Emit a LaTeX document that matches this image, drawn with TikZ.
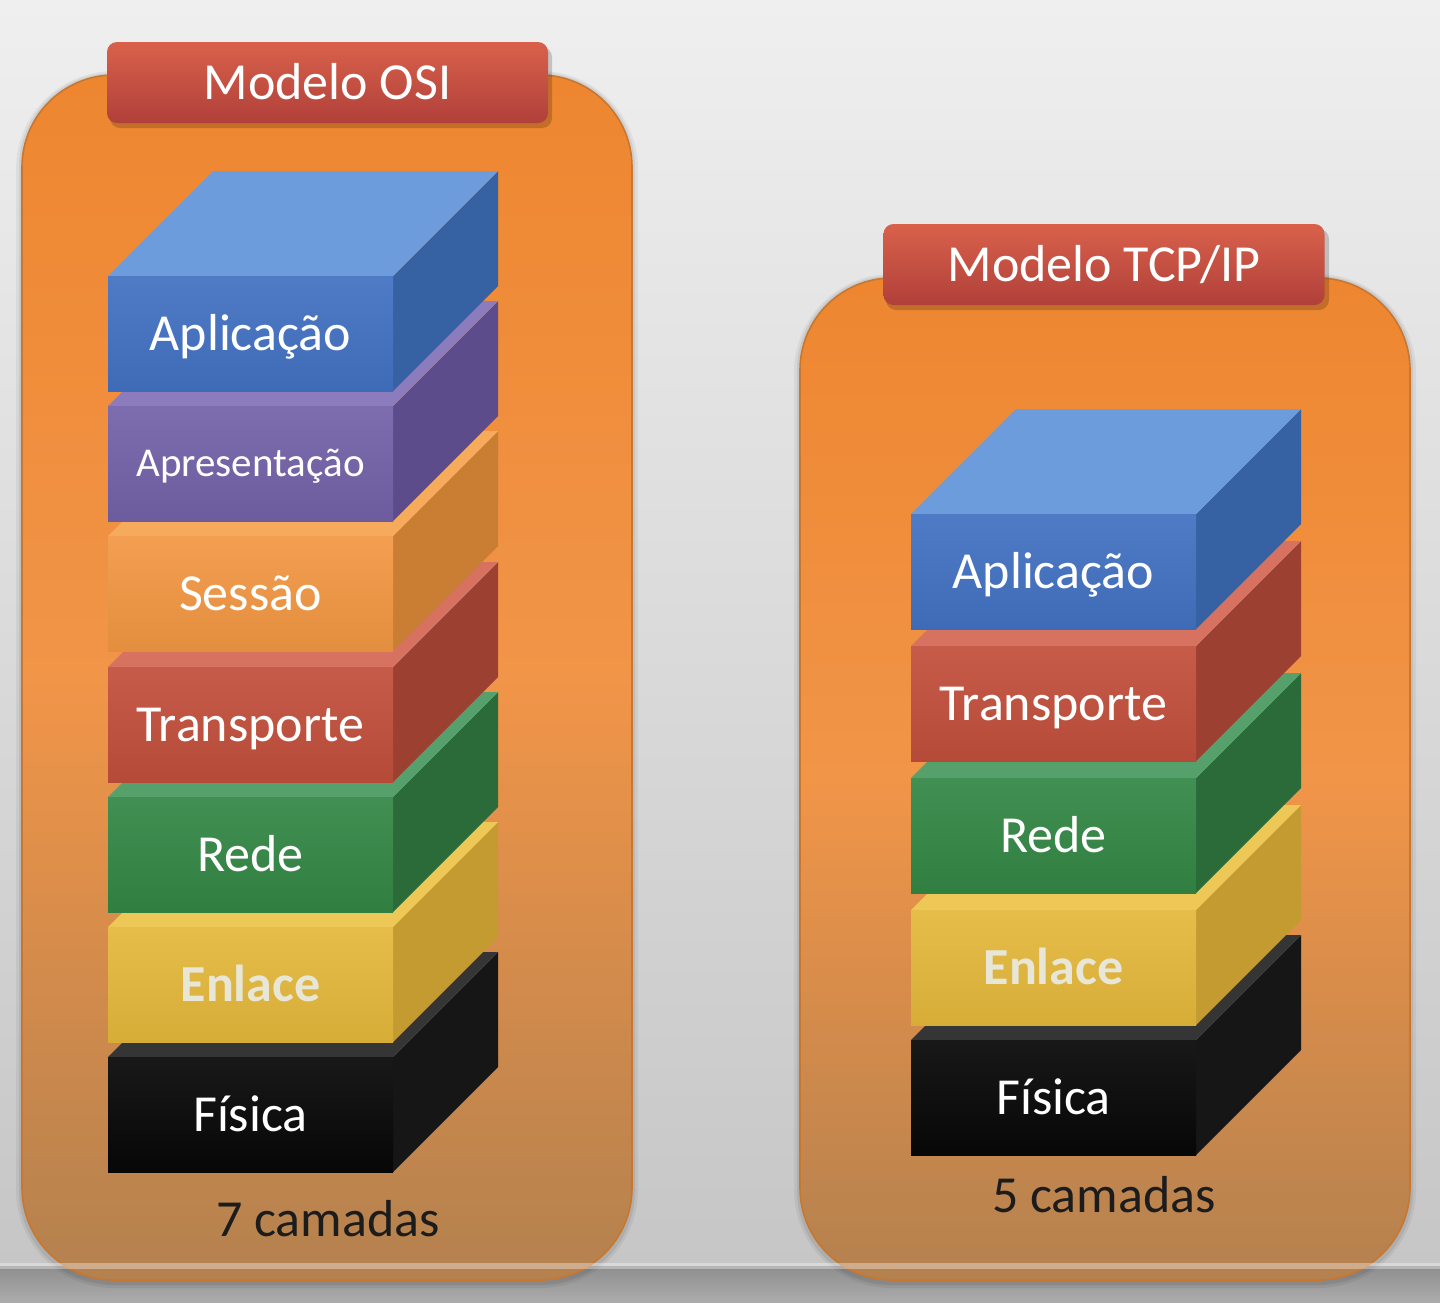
\documentclass[tikz,border=0pt]{standalone}
\usepackage{fontspec}
\setmainfont{Carlito}
\definecolor{bgTop}{HTML}{EFEFEF}
\definecolor{bgBot}{HTML}{C6C6C6}
\definecolor{barTop}{HTML}{8E8E8E}
\definecolor{barBot}{HTML}{ACACAC}
\definecolor{panTop}{HTML}{EE8630}
\definecolor{panMid}{HTML}{F19548}
\definecolor{panBot}{HTML}{B4814F}
\definecolor{panRim}{HTML}{C9772E}
\definecolor{titTop}{HTML}{D9614B}
\definecolor{titBot}{HTML}{B1403A}
% layer colours: F = front, T = top, S = side
\definecolor{blueF}{HTML}{4271C2}\definecolor{blueT}{HTML}{6C9CDB}\definecolor{blueS}{HTML}{3661A2}
\definecolor{purpF}{HTML}{7362A8}\definecolor{purpT}{HTML}{8C7CBD}\definecolor{purpS}{HTML}{5D4C8B}
\definecolor{oranF}{HTML}{F29743}\definecolor{oranT}{HTML}{F6AA5C}\definecolor{oranS}{HTML}{C97E34}
\definecolor{redF}{HTML}{C24F3C}\definecolor{redT}{HTML}{D6725F}\definecolor{redS}{HTML}{9C4032}
\definecolor{greenF}{HTML}{338745}\definecolor{greenT}{HTML}{55A06B}\definecolor{greenS}{HTML}{2A6B39}
\definecolor{yelF}{HTML}{E4B83B}\definecolor{yelT}{HTML}{EEC857}\definecolor{yelS}{HTML}{C39B30}
\definecolor{blkF}{HTML}{070707}\definecolor{blkT}{HTML}{353535}\definecolor{blkS}{HTML}{161616}
\definecolor{enl}{HTML}{E8E6D6}
\definecolor{capTxt}{HTML}{1C1C1C}

\tikzset{
  lay/.style={font=\fontsize{26pt}{30pt}\selectfont, text=white, inner sep=0pt,
              text height=16.6pt, text depth=0pt},
  laysmall/.style={lay, font=\fontsize{20.5pt}{24pt}\selectfont, text height=13.1pt},
  layen/.style={lay, font=\fontsize{26pt}{30pt}\selectfont\bfseries, text=enl},
  titlebox/.style={top color=titTop, bottom color=titBot, rounded corners=5pt,
              minimum width=220.5pt, minimum height=40.5pt, inner sep=0pt,
              font=\fontsize{26pt}{30pt}\selectfont, text=white,
              text height=16.6pt, text depth=0pt},
  caption/.style={font=\fontsize{26pt}{30pt}\selectfont, text=capTxt, inner sep=0pt,
              text height=16.6pt, text depth=0pt},
  panel/.style={top color=panTop, bottom color=panBot, middle color=panMid, rounded corners=46pt},
}

% one slab of a layer stack: name, x, y of front top-left, colour stem, text, text style
\newcommand{\slab}[6]{%
  \begin{scope}[shift={(#2,#3)}]
    \fill[#4S] (285,0) -- (390,-105) -- (390,10) -- (285,115) -- cycle;
    \fill[#4T] (0,0) -- (105,-105) -- (390,-105) -- (285,0) -- cycle;
    \shade[top color=#4F!93!white, bottom color=#4F!94!black] (0,0) rectangle (285,115);
    \node[#6] (#1) at (142.5,57.5) {#5};
  \end{scope}}

% soft shadow round a rounded panel
\newcommand{\panelshadow}[4]{%
  \fill[black, opacity=0.05, rounded corners=49pt] (#1-6,#2-4) rectangle (#3+6,#4+8);
  \fill[black, opacity=0.07, rounded corners=47pt] (#1-3,#2-2) rectangle (#3+3,#4+5);}

\begin{document}
\begin{tikzpicture}[x=0.5pt,y=-0.5pt]
\useasboundingbox (0,0) rectangle (1440,1302);
\shade[top color=bgTop, bottom color=bgBot] (0,0) rectangle (1440,1266);
\shade[top color=barTop, bottom color=barBot] (0,1266) rectangle (1440,1302);

% ---------- OSI panel ----------
\panelshadow{22}{75}{632}{1280}
\shade[panel, draw=panRim, line width=0.8pt] (22,75) rectangle (632,1280);
\fill[black, opacity=0.18, rounded corners=5pt] (110,47) rectangle (552,128);
\node[titlebox] (osiTitle) at (327.5,82.5) {Modelo OSI};

\slab{osiFis}{108}{1057}{blk}{Física}{lay}
\slab{osiEnl}{108}{927}{yel}{Enlace}{layen}
\slab{osiRede}{108}{797}{green}{Rede}{lay}
\slab{osiTra}{108}{667}{red}{Transporte}{lay}
\slab{osiSes}{108}{536}{oran}{Sessão}{lay}
\slab{osiApr}{108}{406}{purp}{Apresentação}{laysmall}
\slab{osiApl}{108}{276}{blue}{Aplicação}{lay}

\node[caption] (osiCount) at (328,1220) {7 camadas};

% ---------- TCP/IP panel ----------
\panelshadow{800}{278}{1410}{1280}
\shade[panel, draw=panRim, line width=0.8pt] (800,278) rectangle (1410,1280);
\fill[black, opacity=0.18, rounded corners=5pt] (886,229) rectangle (1329,310);
\node[titlebox] (tcpTitle) at (1104,264.5) {Modelo TCP/IP};

\slab{tcpFis}{911}{1040}{blk}{Física}{lay}
\slab{tcpEnl}{911}{910}{yel}{Enlace}{layen}
\slab{tcpRede}{911}{778}{green}{Rede}{lay}
\slab{tcpTra}{911}{646}{red}{Transporte}{lay}
\slab{tcpApl}{911}{514}{blue}{Aplicação}{lay}

\node[caption] (tcpCount) at (1104,1196) {5 camadas};

% ---------- light rule across the bottom ----------
\fill[white, opacity=0.35] (0,1263) rectangle (1440,1269);
\end{tikzpicture}
\end{document}
